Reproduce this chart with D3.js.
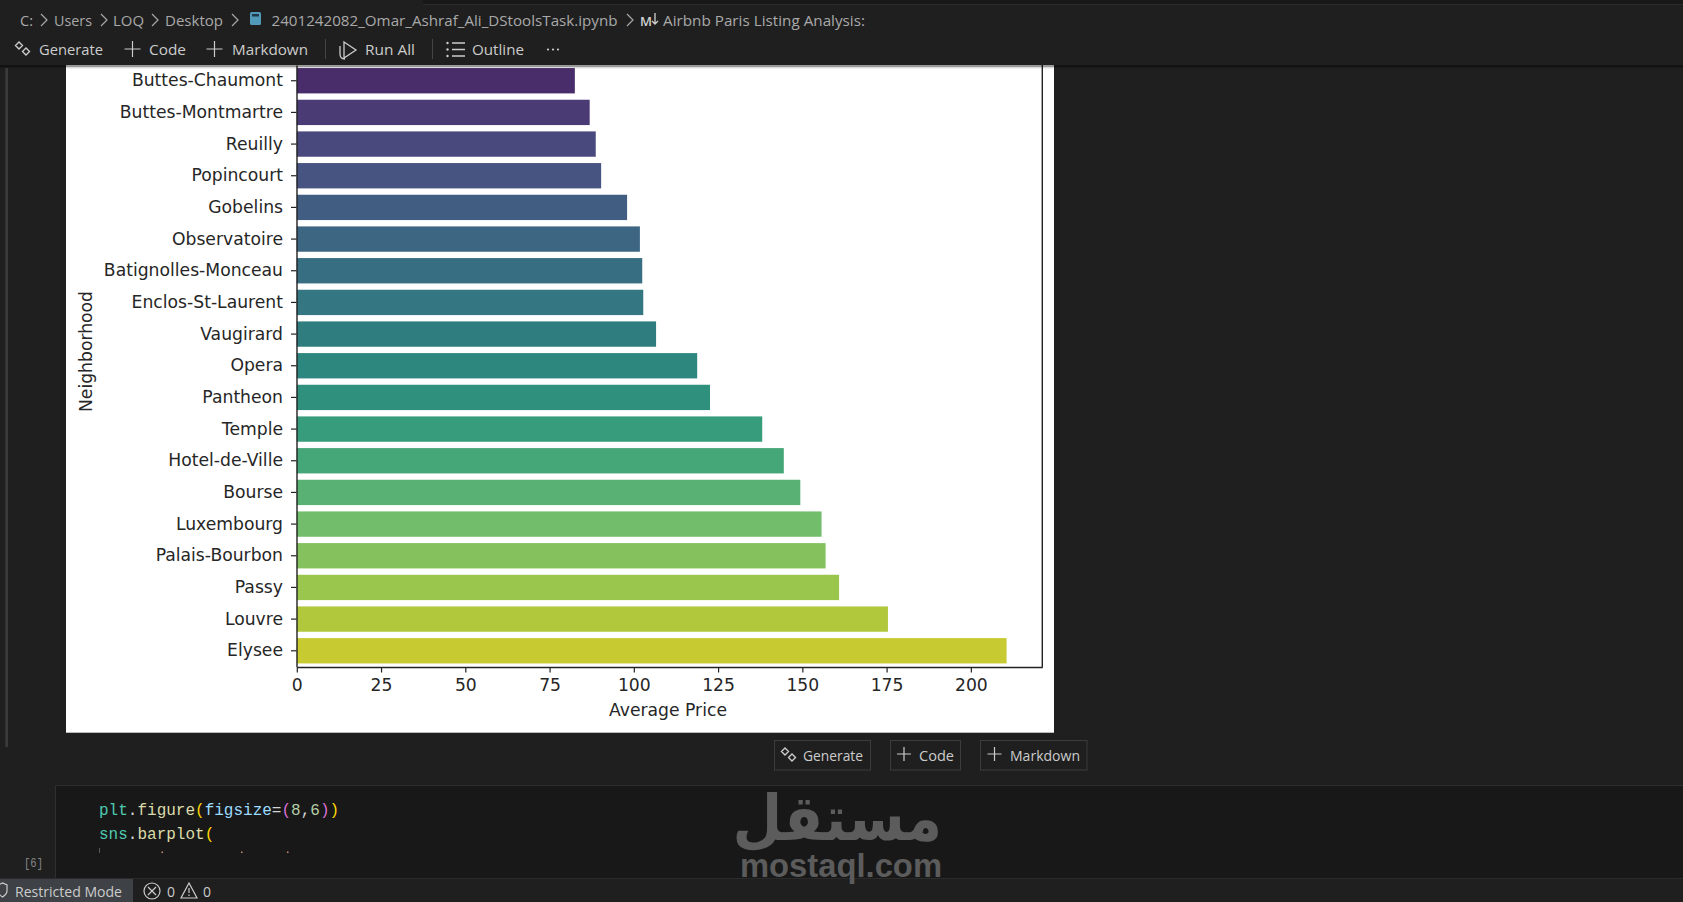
<!DOCTYPE html>
<html>
<head>
<meta charset="utf-8">
<script src="https://cdn.jsdelivr.net/npm/d3@7"></script>
<style>
  html, body { margin: 0; padding: 0; background: #1f1f1f; overflow: hidden; }
  svg { display: block; }
</style>
</head>
<body>
<div id="chart"></div>
<script>
const neighborhoods = ['Buttes-Chaumont', 'Buttes-Montmartre', 'Reuilly', 'Popincourt', 'Gobelins', 'Observatoire',
    'Batignolles-Monceau', 'Enclos-St-Laurent', 'Vaugirard', 'Opera', 'Pantheon', 'Temple', 'Hotel-de-Ville',
    'Bourse', 'Luxembourg', 'Palais-Bourbon', 'Passy', 'Louvre', 'Elysee'];
const avgPrices = [82.5, 86.9, 88.7, 90.3, 98.0, 101.8, 102.5, 102.8, 106.6, 118.8, 122.6, 138.1, 144.5, 149.4,
    155.7, 156.9, 160.9, 175.4, 210.6];
const priceTicks = [0, 25, 50, 75, 100, 125, 150, 175, 200];
const xMax = 221.2;

const width = 1683;
const height = 902;
const plot = { left: 296.8, right: 1042.3, top: 64.9, bottom: 666.6 };
const chartFont = '"DejaVu Sans", sans-serif';
const chartSize = '17.2px';
const uiFont = '"Open Sans", sans-serif';
const codeFont = '"Liberation Mono", monospace';

const svg = d3.select('#chart').append('svg')
    .attr('width', width)
    .attr('height', height)
    .attr('viewBox', `0 0 ${width} ${height}`);

svg.append('rect').attr('width', width).attr('height', height).attr('fill', '#1f1f1f');

// --- the matplotlib output image ---
svg.append('rect').attr('x', 66).attr('y', 60).attr('width', 988).attr('height', 672.7).attr('fill', '#fff');

const x = d3.scaleLinear().domain([0, xMax]).range([plot.left, plot.right]);
const y = d3.scaleBand().domain(neighborhoods).range([plot.top, plot.bottom]).paddingInner(0.2).paddingOuter(0.1);

// seaborn viridis palette, desaturated to 0.75. The plot is scrolled, one more
// bar sits above the visible part, so the ramp has 20 steps and starts at the 2nd
const barColor = i => {
    const c = d3.hsl(d3.interpolateViridis((i + 2) / (neighborhoods.length + 2)));
    c.s *= 0.75;
    return c.formatHex();
};

svg.selectAll('.bar')
    .data(neighborhoods)
    .enter()
    .append('rect')
    .attr('class', 'bar')
    .attr('x', x(0))
    .attr('y', d => y(d))
    .attr('width', (d, i) => x(avgPrices[i]) - x(0))
    .attr('height', y.bandwidth())
    .attr('fill', (d, i) => barColor(i));

const axisX = svg.append('g')
    .attr('transform', `translate(0, ${plot.bottom + 0.4})`)
    .call(d3.axisBottom(x).tickValues(priceTicks).tickSize(5.5).tickPadding(6).tickSizeOuter(0));
const axisY = svg.append('g')
    .attr('transform', `translate(${plot.left - 0.3}, 0)`)
    .call(d3.axisLeft(y).tickSize(5.5).tickPadding(8).tickSizeOuter(0));

[axisX, axisY].forEach(axis => {
    axis.selectAll('text').style('font-family', chartFont).style('font-size', chartSize).attr('fill', '#262626');
    axis.selectAll('line').attr('stroke', '#222').attr('stroke-width', 1.2);
    axis.select('.domain').attr('stroke', '#222').attr('stroke-width', 1.4);
});

// right spine, the top one is scrolled away under the toolbar
svg.append('line')
    .attr('x1', plot.right).attr('x2', plot.right)
    .attr('y1', plot.top).attr('y2', plot.bottom + 0.4)
    .attr('stroke', '#222').attr('stroke-width', 1.4);

svg.append('text')
    .attr('x', 668).attr('y', 715.5)
    .attr('text-anchor', 'middle')
    .style('font-family', chartFont).style('font-size', chartSize).attr('fill', '#262626')
    .text('Average Price');
svg.append('text')
    .attr('transform', 'translate(92, 351.5) rotate(-90)')
    .attr('text-anchor', 'middle')
    .style('font-family', chartFont).style('font-size', chartSize).attr('fill', '#262626')
    .text('Neighborhood');

// --- editor chrome ---
const label = (px, py, text, fit, opts = {}) => {
    const t = svg.append('text')
        .attr('x', px).attr('y', py)
        .style('font-family', opts.font || uiFont)
        .style('font-size', `${opts.size || 15}px`)
        .style('font-weight', opts.weight || 400)
        .attr('fill', opts.color || '#cccccc')
        .text(text);
    if (fit) t.attr('textLength', fit).attr('lengthAdjust', 'spacingAndGlyphs');
    return t;
};
const stroke = (d, color = '#cccccc', w = 1.2) => svg.append('path')
    .attr('d', d).attr('fill', 'none').attr('stroke', color).attr('stroke-width', w);
const plus = (cx, cy, r = 8) => stroke(`M${cx - r},${cy}H${cx + r}M${cx},${cy - r}V${cy + r}`);
const sparkle = (cx, cy) => {
    stroke(`M${cx - 3},${cy - 7}l3.5,3.5l-3.5,3.5l-3.5,-3.5zM${cx + 4},${cy - 1}l3.5,3.5l-3.5,3.5l-3.5,-3.5z`, '#cccccc', 1.4);
};
const chevron = (cx, cy, color = '#a9a9a9') => stroke(`M${cx - 3},${cy - 6}l6,6l-6,6`, color, 1.2);

// header
svg.append('rect').attr('width', width).attr('height', 65).attr('fill', '#1f1f1f');
svg.append('rect').attr('x', 0).attr('y', 65).attr('width', width).attr('height', 2).attr('fill', '#000').attr('opacity', 0.4);
svg.append('rect').attr('x', 0).attr('y', 67).attr('width', width).attr('height', 1.4).attr('fill', '#000').attr('opacity', 0.15);
svg.append('rect').attr('x', 423).attr('y', 0).attr('width', width - 423).attr('height', 4).attr('fill', '#181818');
svg.append('rect').attr('x', 423).attr('y', 4).attr('width', width - 423).attr('height', 1).attr('fill', '#2c2c2c');

const crumbY = 25.5;
label(20, crumbY, 'C:', 13, { color: '#a9a9a9' });
chevron(44, 20);
label(54, crumbY, 'Users', 38, { color: '#a9a9a9' });
chevron(104, 20);
label(113, crumbY, 'LOQ', 31, { color: '#a9a9a9' });
chevron(155, 20);
label(165, crumbY, 'Desktop', 58, { color: '#a9a9a9' });
chevron(235, 20);
svg.append('rect').attr('x', 250).attr('y', 12).attr('width', 11).attr('height', 13).attr('rx', 1.5).attr('fill', '#519aba');
svg.append('rect').attr('x', 252).attr('y', 14).attr('width', 7).attr('height', 2.5).attr('fill', '#1f3a46');
label(271.5, crumbY, '2401242082_Omar_Ashraf_Ali_DStoolsTask.ipynb', 346, { color: '#a9a9a9' });
chevron(630, 20);
label(640, crumbY, 'M', 12, { color: '#d0d0d0', weight: 600, size: 13 });
stroke('M655,13V24M652,21l3,3l3,-3', '#d0d0d0', 1.3);
label(663, crumbY, 'Airbnb Paris Listing Analysis:', 202, { color: '#a9a9a9' });

const barY = 54.5;
sparkle(22, 49);
label(39, barY, 'Generate', 64);
plus(132.5, 49);
label(149, barY, 'Code', 37);
plus(214.5, 49);
label(232, barY, 'Markdown', 76);
svg.append('rect').attr('x', 325).attr('y', 39).attr('width', 1).attr('height', 20).attr('fill', '#454545');
stroke('M344,42L356,50L344,58ZM340,46V54C340,58 342,59 345,59', '#cccccc', 1.3);
label(365, barY, 'Run All', 50);
svg.append('rect').attr('x', 432).attr('y', 39).attr('width', 1).attr('height', 20).attr('fill', '#454545');
stroke('M452,43H465M452,49.5H465M452,56H465', '#cccccc', 1.3);
[43, 49.5, 56].forEach(cy => svg.append('circle').attr('cx', 447.5).attr('cy', cy).attr('r', 1.2).attr('fill', '#cccccc'));
label(472, barY, 'Outline', 52);
[548, 553, 558].forEach(cx => svg.append('circle').attr('cx', cx).attr('cy', 49.5).attr('r', 1.1).attr('fill', '#cccccc'));

// cell focus gutter
svg.append('rect').attr('x', 5.3).attr('y', 68).attr('width', 2.7).attr('height', 679).attr('fill', '#3a3a3a');

// add cell buttons
[[774, 96], [890, 70], [980, 106.5]].forEach(([bx, bw]) => {
    svg.append('rect').attr('x', bx + 0.5).attr('y', 740.5).attr('width', bw).attr('height', 29.5)
        .attr('fill', 'none').attr('stroke', '#3c3c3c');
});
sparkle(788, 755);
label(803, 760.5, 'Generate', 60, { size: 14 });
plus(904, 754, 7);
label(919, 760.5, 'Code', 35, { size: 14 });
plus(994.5, 754, 7);
label(1010, 760.5, 'Markdown', 70, { size: 14 });

// code cell
svg.append('rect').attr('x', 55).attr('y', 785.5).attr('width', width - 55).attr('height', 93).attr('fill', '#181818');
stroke(`M55.5,878V785.5H${width}`, '#2f2f2f', 1);

const codeLine = (py, parts) => {
    const t = svg.append('text')
        .attr('x', 99).attr('y', py)
        .style('font-family', codeFont).style('font-size', '16px');
    parts.forEach(([s, c]) => t.append('tspan').attr('fill', c).text(s));
};
codeLine(814.5, [['plt', '#4ec9b0'], ['.', '#d4d4d4'], ['figure', '#dcdcaa'], ['(', '#ffd700'], ['figsize', '#9cdcfe'],
    ['=', '#d4d4d4'], ['(', '#da70d6'], ['8', '#b5cea8'], [',', '#d4d4d4'], ['6', '#b5cea8'], [')', '#da70d6'], [')', '#ffd700']]);
codeLine(838.5, [['sns', '#4ec9b0'], ['.', '#d4d4d4'], ['barplot', '#dcdcaa'], ['(', '#ffd700']]);
svg.append('rect').attr('x', 99).attr('y', 848).attr('width', 1).attr('height', 5).attr('fill', '#5a5a5a');
[[161.5, '#ce9178'], [241, '#ce9178'], [287, '#ce9178']].forEach(([mx, c]) => {
    svg.append('rect').attr('x', mx).attr('y', 851.5).attr('width', 1.5).attr('height', 1.5).attr('fill', c);
});
label(24, 867, '[6]', 19, { font: codeFont, size: 13, color: '#858585' });

// status bar
svg.append('rect').attr('x', 0).attr('y', 878).attr('width', width).attr('height', 24).attr('fill', '#1f1f1f');
svg.append('rect').attr('x', 0).attr('y', 878).attr('width', width).attr('height', 1).attr('fill', '#2b2b2b');
svg.append('rect').attr('x', 0).attr('y', 879).attr('width', 133).attr('height', 23).attr('fill', '#3e4145');
stroke('M-2,885L2.5,883L7,885V891C7,894 4,896 2.5,897C1,896 -2,894 -2,891Z', '#cccccc', 1.2);
label(15, 896.5, 'Restricted Mode', 107, { size: 14 });
svg.append('circle').attr('cx', 152).attr('cy', 891).attr('r', 8).attr('fill', 'none').attr('stroke', '#cccccc').attr('stroke-width', 1.2);
stroke('M148,887L156,895M156,887L148,895');
label(167, 896.5, '0', null, { size: 14 });
stroke('M189,883L197,898H181ZM189,888V893M189,894.5V896', '#cccccc', 1.2);
label(203, 896.5, '0', null, { size: 14 });

// watermark, sits over the cell and the status bar line
label(0, 0, 'مستقل', null, { font: '"DejaVu Sans", sans-serif', size: 63, weight: 700, color: '#5c5c5c' })
    .attr('text-anchor', 'end')
    .attr('transform', 'translate(942, 840) scale(0.91, 1)');
label(740, 876.5, 'mostaql.com', 202, { font: '"Liberation Sans", sans-serif', size: 33, weight: 700, color: '#5c5c5c' });
</script>
</body>
</html>
